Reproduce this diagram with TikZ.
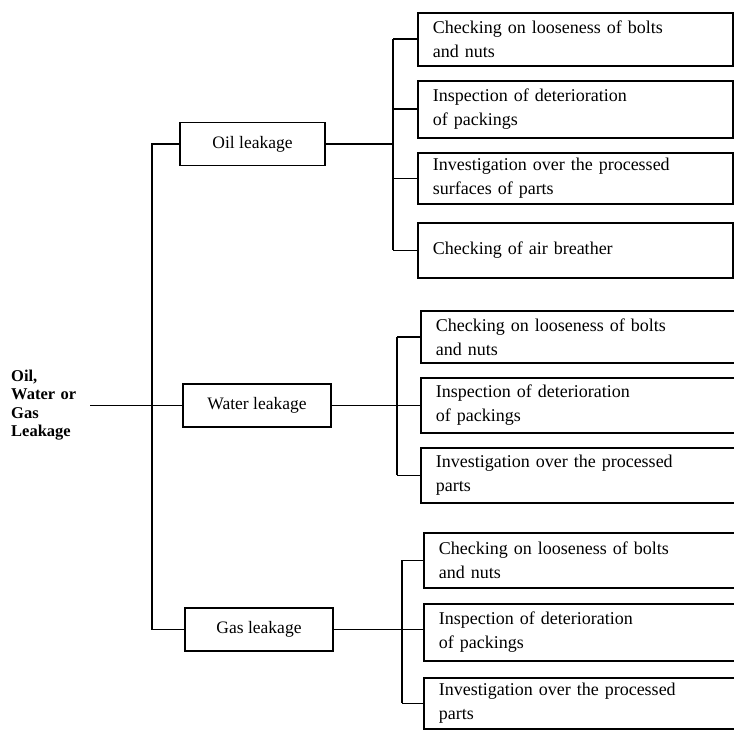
\documentclass[tikz,border=0pt]{standalone}
\usepackage{fontspec}
\setmainfont{Liberation Serif}
\begin{document}
\begin{tikzpicture}[x=1bp,y=-1bp,
  ln/.style={line width=1.6bp, black},
  leaf/.style={draw, ln, rectangle, anchor=north west, inner xsep=15bp, inner ysep=2bp,
    align=left, text width=285bp, font=\fontsize{18bp}{24bp}\selectfont},
  wleaf/.style={leaf, text width=300bp},
  mid/.style={draw, ln, rectangle, inner sep=0pt, minimum height=43bp,
    font=\fontsize{17.5bp}{23bp}\selectfont},
  rootnode/.style={anchor=west, align=left, inner sep=2bp, text width=72bp,
    font=\bfseries\fontsize{16.5bp}{18.5bp}\selectfont}
]
\useasboundingbox (0,0) rectangle (734,730);
\clip (0,0) rectangle (734,730);

% root
\node[rootnode] (root) at (9,405) {Oil,\\Water or\\Gas\\Leakage};

% middle level
\node[mid, minimum width=145bp] (oil) at (252.5,144) {Oil leakage};
\node[mid, minimum width=148bp] (water) at (257,405.5) {Water leakage};
\node[mid, minimum width=148bp] (gas) at (259,629.5) {Gas leakage};

% top group
\node[leaf, minimum height=53bp] (o1) at (417,12) {Checking on looseness of bolts\\and nuts};
\node[leaf, minimum height=57bp] (o2) at (417,80) {Inspection of deterioration\\of packings};
\node[leaf, minimum height=51bp] (o3) at (417,152) {Investigation over the processed\\surfaces of parts};
\node[leaf, minimum height=55bp] (o4) at (417,222) {Checking of air breather};

% middle group
\node[wleaf, minimum height=52bp] (w1) at (420,310) {Checking on looseness of bolts\\and nuts};
\node[wleaf, minimum height=55bp] (w2) at (420,377) {Inspection of deterioration\\of packings};
\node[wleaf, minimum height=55bp] (w3) at (420,447) {Investigation over the processed\\parts};

% bottom group
\node[wleaf, minimum height=55bp] (g1) at (423,532) {Checking on looseness of bolts\\and nuts};
\node[wleaf, minimum height=57bp] (g2) at (423,603) {Inspection of deterioration\\of packings};
\node[wleaf, minimum height=51bp] (g3) at (423,677) {Investigation over the processed\\parts};

% trunk coordinates
\coordinate (L) at (152,0);
\coordinate (tA) at (393,0);
\coordinate (tB) at (397,0);
\coordinate (tC) at (402,0);

% root connections
\draw[ln] ([xshift=5bp]root.east |- water.west) -- (water.west);
\draw[ln] (oil.west) -- (L |- oil.west) -- (L |- gas.west) -- (gas.west);

% oil branch
\draw[ln] (oil.east) -- (tA |- oil.east);
\draw[ln] (tA |- o1.west) -- (tA |- o4.west);
\foreach \n in {o1,o2,o3,o4} \draw[ln] (tA |- \n.west) -- (\n.west);

% water branch
\draw[ln] (water.east) -- (water.east -| w2.west);
\draw[ln] (tB |- w1.west) -- (tB |- w3.west);
\foreach \n in {w1,w3} \draw[ln] (tB |- \n.west) -- (\n.west);

% gas branch
\draw[ln] (gas.east) -- (gas.east -| g2.west);
\draw[ln] (tC |- g1.west) -- (tC |- g3.west);
\foreach \n in {g1,g3} \draw[ln] (tC |- \n.west) -- (\n.west);
\end{tikzpicture}
\end{document}
